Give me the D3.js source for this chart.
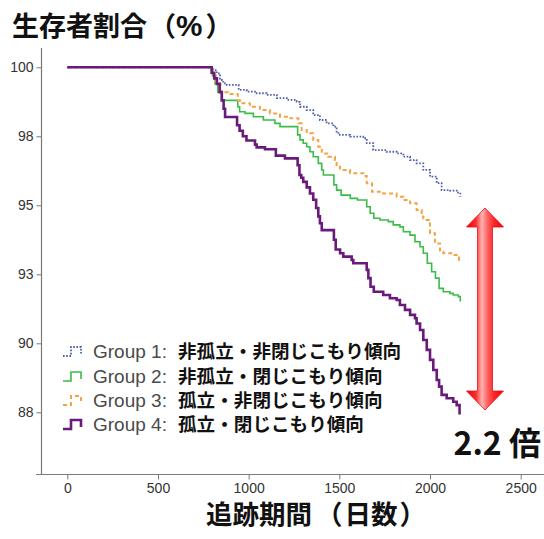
<!DOCTYPE html>
<html><head><meta charset="utf-8">
<script src="https://cdn.jsdelivr.net/npm/d3@7/dist/d3.min.js"></script>
<style>
html,body{margin:0;padding:0;background:#fff;}
svg{display:block;}
</style></head>
<body>
<svg id="chart" width="544" height="539"></svg>
<script>
// ---- data ----
const xTicks = [0, 500, 1000, 1500, 2000, 2500];
const yTicks = [100, 97.5, 95, 92.5, 90, 87.5];
const yTickLabels = ["100", "98", "95", "93", "90", "88"];
const groupNames = ["Group 1:", "Group 2:", "Group 3:", "Group 4:"];
const groupLabels = ["非孤立・非閉じこもり傾向", "非孤立・閉じこもり傾向", "孤立・非閉じこもり傾向", "孤立・閉じこもり傾向"];
const yTitleParts = ["生存者割合", "（", "%", "）"];
const xTitleParts = ["追跡期間", "（", "日数", "）"];
const ratioLabel = "2.2 倍";

// [day, survival %] steps
const group1 = [[0,100],[805,99.9],[824,99.78],[842,99.54],[860,99.42],[879,99.36],[945,99.18],[989,99.12],[1044,99.06],[1099,99.0],[1155,98.88],[1210,98.82],[1265,98.75],[1283,98.57],[1320,98.45],[1356,98.27],[1393,98.09],[1430,97.97],[1467,97.85],[1485,97.67],[1495,97.55],[1559,97.49],[1632,97.43],[1651,97.25],[1687,97.0],[1761,96.94],[1816,96.88],[1853,96.76],[1890,96.64],[1926,96.52],[1963,96.28],[2000,96.04],[2037,95.8],[2064,95.55],[2110,95.53],[2147,95.46],[2167,95.31]];
const group2 = [[0,100],[800,99.7],[815,99.4],[830,99.1],[850,98.8],[940,98.57],[950,98.39],[980,98.33],[1026,98.21],[1081,98.09],[1145,97.97],[1173,97.85],[1270,97.55],[1283,97.37],[1301,97.25],[1320,97.12],[1338,96.94],[1356,96.76],[1384,96.52],[1403,96.28],[1412,96.1],[1470,95.74],[1485,95.55],[1510,95.37],[1560,95.25],[1600,95.19],[1651,94.95],[1670,94.71],[1690,94.53],[1724,94.47],[1770,94.41],[1797,94.29],[1834,94.22],[1853,94.04],[1890,93.92],[1917,93.68],[1945,93.5],[1963,93.26],[1985,92.9],[2009,92.59],[2030,92.36],[2050,91.99],[2073,91.87],[2110,91.81],[2128,91.75],[2156,91.69],[2167,91.51]];
const group3 = [[0,100],[800,99.7],[820,99.4],[845,99.1],[888,99.03],[940,98.81],[952,98.7],[1007,98.57],[1062,98.45],[1117,98.33],[1173,98.21],[1230,98.15],[1274,97.97],[1292,97.73],[1320,97.61],[1356,97.37],[1384,97.12],[1403,96.88],[1439,96.76],[1476,96.64],[1485,96.4],[1504,96.28],[1559,96.16],[1632,96.06],[1651,95.8],[1680,95.49],[1742,95.43],[1816,95.31],[1853,95.19],[1890,95.07],[1926,94.83],[1954,94.59],[1963,94.47],[2000,93.99],[2027,93.62],[2055,93.32],[2073,93.26],[2128,93.2],[2160,93.02],[2167,93.0]];
const group4 = [[0,100],[796,99.8],[810,99.6],[825,99.4],[840,99.1],[852,98.8],[862,98.5],[870,98.2],[936,97.9],[950,97.7],[968,97.5],[988,97.35],[1035,97.2],[1044,97.1],[1090,97.03],[1150,96.8],[1200,96.7],[1270,96.45],[1280,96.1],[1290,96.0],[1301,95.85],[1320,95.65],[1338,95.43],[1356,95.2],[1372,94.9],[1384,94.6],[1393,94.35],[1403,94.1],[1470,93.75],[1480,93.4],[1504,93.26],[1522,93.14],[1568,93.02],[1577,92.9],[1651,92.66],[1660,92.36],[1672,92.05],[1690,91.87],[1742,91.75],[1779,91.63],[1816,91.57],[1834,91.39],[1862,91.21],[1890,91.03],[1917,90.91],[1926,90.72],[1945,90.48],[1963,90.12],[1982,89.76],[2000,89.4],[2018,89.03],[2037,88.67],[2050,88.43],[2064,88.13],[2092,88.01],[2128,87.88],[2147,87.76],[2163,87.42]];

// ---- drawing ----
const svg = d3.select("#chart");
const latin = "'Liberation Sans', Arial, sans-serif";
const cjk = "'Noto Sans CJK JP', 'Noto Sans', sans-serif";

const x = d3.scaleLinear().domain([0, 2500]).range([67.3, 520.7]);
const y = d3.scaleLinear().domain([87.5, 100]).range([412.3, 67.3]);

const axisColor = "#7a7a7a";
svg.append("line").attr("x1", 41.5).attr("x2", 41.5).attr("y1", 48).attr("y2", 474.5)
  .attr("stroke", axisColor).attr("stroke-width", 1.2);
svg.append("line").attr("x1", 36).attr("x2", 544).attr("y1", 474.5).attr("y2", 474.5)
  .attr("stroke", axisColor).attr("stroke-width", 1.2);

const yAxis = svg.append("g").attr("transform", "translate(41.5,0)")
  .call(d3.axisLeft(y).tickValues(yTicks).tickSize(5).tickPadding(3)
    .tickFormat((d, i) => yTickLabels[i]));
yAxis.select(".domain").remove();
yAxis.selectAll("line").attr("stroke", axisColor);
yAxis.selectAll("text").attr("font-family", latin).attr("font-size", 14).attr("fill", "#333");

const xAxis = svg.append("g").attr("transform", "translate(0,474.5)")
  .call(d3.axisBottom(x).tickValues(xTicks).tickSize(5).tickPadding(4).tickFormat(d3.format("d")));
xAxis.select(".domain").remove();
xAxis.selectAll("line").attr("stroke", axisColor);
xAxis.selectAll("text").attr("font-family", latin).attr("font-size", 14).attr("fill", "#333");

// titles (tspans keep the wide bracket spacing of the original)
function title(parts, x0, y0, gaps, size, latinIdx) {
  const t = svg.append("text").attr("x", x0).attr("y", y0)
    .attr("font-family", cjk).attr("font-weight", "bold").attr("font-size", size).attr("fill", "#111");
  parts.forEach((p, i) => {
    const s = t.append("tspan").attr("dx", gaps[i]).text(p);
    if (i === latinIdx) s.attr("font-family", latin).attr("font-size", size * 1.1);
  });
  return t;
}
title(yTitleParts, 12, 36, [0, 2, 0, 3], 27, 2);
title(xTitleParts, 206, 524, [0, 4, 2, 2], 26.5, -1);

const styles = [
  {color: "#4f5fae", width: 1.8, dash: "1.6,1.6"},
  {color: "#3dbb4b", width: 1.6, dash: null},
  {color: "#f6a443", width: 2, dash: "4,3"},
  {color: "#6a1b7a", width: 2.6, dash: null}
];
const groups = [group1, group2, group3, group4];
const line = d3.line().x(d => x(d[0])).y(d => y(d[1])).curve(d3.curveStepAfter);
groups.forEach((g, i) => {
  svg.append("path").datum(g).attr("d", line).attr("fill", "none")
    .attr("stroke", styles[i].color).attr("stroke-width", styles[i].width)
    .attr("stroke-dasharray", styles[i].dash);
});

const legY = [352, 377, 401, 425];
groupNames.forEach((n, i) => {
  const cy = legY[i];
  const x0 = 63;
  svg.append("path")
    .attr("d", `M${x0},${cy+4}H${x0+8}V${cy-5}H${x0+18}V${cy+2}`)
    .attr("fill", "none").attr("stroke", styles[i].color)
    .attr("stroke-width", styles[i].width).attr("stroke-dasharray", styles[i].dash);
  svg.append("text").attr("x", 93).attr("y", cy + 6).text(n)
    .attr("font-family", latin).attr("font-size", 19).attr("fill", "#4a4a4a");
  svg.append("text").attr("x", 178).attr("y", cy + 6).text(groupLabels[i])
    .attr("font-family", cjk).attr("font-weight", "bold").attr("font-size", 18.6).attr("fill", "#111");
});

const defs = svg.append("defs");
const grad = defs.append("linearGradient").attr("id", "ag").attr("x1", "0%").attr("x2", "100%").attr("y1", "0%").attr("y2", "0%");
[["0%", "#e60010"], ["25%", "#ff2a2a"], ["42%", "#ffb4b4"], ["55%", "#ff6a6a"], ["75%", "#ff2424"], ["100%", "#e60010"]]
  .forEach(s => grad.append("stop").attr("offset", s[0]).attr("stop-color", s[1]));
const ax = 485, aTop = 208, aBot = 410, hw = 18.5, sw = 7.5, hh = 19;
svg.append("path")
  .attr("d", `M${ax},${aTop} L${ax+hw},${aTop+hh} L${ax+sw},${aTop+hh} L${ax+sw},${aBot-hh} L${ax+hw},${aBot-hh} L${ax},${aBot} L${ax-hw},${aBot-hh} L${ax-sw},${aBot-hh} L${ax-sw},${aTop+hh} L${ax-hw},${aTop+hh} Z`)
  .attr("fill", "url(#ag)").attr("stroke", "#e8101a").attr("stroke-width", 0.8);

svg.append("text").attr("x", 541).attr("y", 455).attr("text-anchor", "end").text(ratioLabel)
  .attr("font-family", cjk).attr("font-weight", "bold").attr("font-size", 32).attr("fill", "#111");
</script>
</body></html>
